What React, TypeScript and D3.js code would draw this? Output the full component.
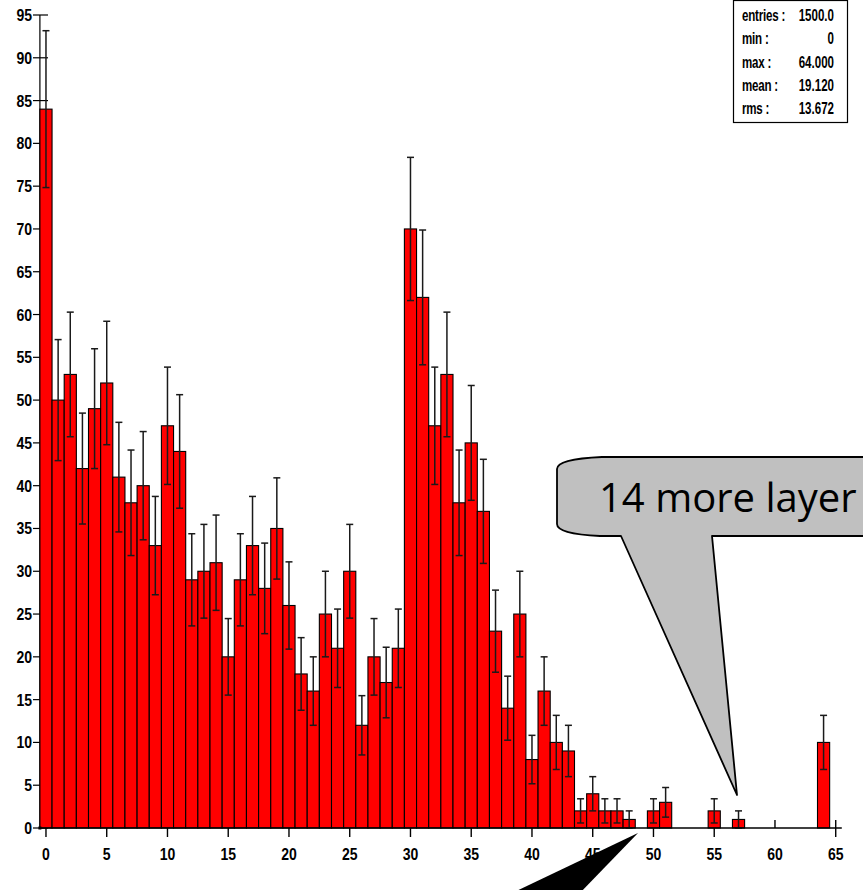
import React, { useEffect, useRef } from "react";
import * as d3 from "d3";

// histogram contents, one entry per unit bin starting at 0
const counts = [
  84, 50, 53, 42, 49, 52, 41, 38, 40, 33,
  47, 44, 29, 30, 31, 20, 29, 33, 28, 35,
  26, 18, 16, 25, 21, 30, 12, 20, 17, 21,
  70, 62, 47, 53, 38, 45, 37, 23, 14, 25,
  8, 16, 10, 9, 2, 4, 2, 2, 1, 0,
  2, 3, 0, 0, 0, 2, 0, 1, 0, 0,
  0, 0, 0, 0, 10,
];

const xTicks = [0, 5, 10, 15, 20, 25, 30, 35, 40, 45, 50, 55, 60, 65];
const yTicks = [0, 5, 10, 15, 20, 25, 30, 35, 40, 45, 50, 55, 60, 65, 70, 75, 80, 85, 90, 95];

const statLabels = ["entries :", "min :", "max :", "mean :", "rms :"];
const statValues = ["1500.0", "0", "64.000", "19.120", "13.672"];

const calloutText = "14 more layer";

const App = () => {
  const svgRef = useRef<SVGSVGElement>(null);

  useEffect(() => {
    const width = 863;
    const height = 890;
    const svg = d3.select(svgRef.current);
    svg.selectAll("*").remove();
    svg.attr("width", width).attr("height", height);

    const x = d3.scaleLinear().domain([-0.5, 65.5]).range([39.9, 841.8]);
    const y = d3.scaleLinear().domain([0, 95]).range([828, 15]);
    const axisFont = "'Liberation Sans', Arial, sans-serif";

    // y ticks (drawn under the bars)
    svg.append("g")
      .selectAll("line")
      .data(yTicks)
      .join("line")
      .attr("x1", 33)
      .attr("x2", 48)
      .attr("y1", (d) => y(d))
      .attr("y2", (d) => y(d))
      .attr("stroke", "#000")
      .attr("stroke-width", 1.2);

    svg.append("line")
      .attr("x1", x(-0.5)).attr("x2", x(-0.5))
      .attr("y1", y(0)).attr("y2", y(95))
      .attr("stroke", "#000").attr("stroke-width", 1.2);

    const data = counts.map((c, i) => ({ bin: i, c })).filter((d) => d.c > 0);

    svg.append("g")
      .selectAll("rect")
      .data(data)
      .join("rect")
      .attr("x", (d) => x(d.bin - 0.5))
      .attr("width", (d) => x(d.bin + 0.5) - x(d.bin - 0.5))
      .attr("y", (d) => y(d.c))
      .attr("height", (d) => y(0) - y(d.c))
      .attr("fill", "#ff0000")
      .attr("stroke", "#000")
      .attr("stroke-width", 1.1);

    // poisson error bars
    const err = svg.append("g").attr("stroke", "#1a1a1a").attr("stroke-width", 1.5);
    data.forEach((d) => {
      const e = Math.sqrt(d.c);
      const cx = x(d.bin);
      const lo = y(Math.max(0, d.c - e));
      const hi = y(d.c + e);
      err.append("line").attr("x1", cx).attr("x2", cx).attr("y1", lo).attr("y2", hi);
      err.append("line").attr("x1", cx - 3.5).attr("x2", cx + 3.5).attr("y1", hi).attr("y2", hi);
      err.append("line").attr("x1", cx - 3.5).attr("x2", cx + 3.5).attr("y1", lo).attr("y2", lo);
    });

    // x axis
    svg.append("line")
      .attr("x1", x(-0.5)).attr("x2", x(65.5))
      .attr("y1", y(0)).attr("y2", y(0))
      .attr("stroke", "#000").attr("stroke-width", 1.4);
    svg.append("rect")
      .attr("x", x(-0.5) - 1.5).attr("y", y(0) - 1.5)
      .attr("width", 3).attr("height", 3).attr("fill", "#000");

    svg.append("g")
      .selectAll("line")
      .data(xTicks)
      .join("line")
      .attr("x1", (d) => x(d))
      .attr("x2", (d) => x(d))
      .attr("y1", (d) => (d >= 60 ? y(0) - 8 : y(0)))
      .attr("y2", (d) => (d === 60 ? y(0) : y(0) + 9))
      .attr("stroke", "#000")
      .attr("stroke-width", 1.4);

    svg.append("g")
      .selectAll("text")
      .data(xTicks)
      .join("text")
      .attr("transform", (d) => `translate(${x(d)},860) scale(0.85,1)`)
      .attr("text-anchor", "middle")
      .attr("font-family", axisFont)
      .attr("font-weight", "bold")
      .attr("font-size", 16.5)
      .text((d) => d);

    svg.append("g")
      .selectAll("text")
      .data(yTicks)
      .join("text")
      .attr("transform", (d) => `translate(32,${y(d) + 6}) scale(0.85,1)`)
      .attr("text-anchor", "end")
      .attr("font-family", axisFont)
      .attr("font-weight", "bold")
      .attr("font-size", 16.5)
      .text((d) => d);

    // statistics box
    const box = svg.append("g");
    box.append("rect")
      .attr("x", 733.5).attr("y", 0.5)
      .attr("width", 114).attr("height", 122)
      .attr("fill", "#fff").attr("stroke", "#000").attr("stroke-width", 1.2);
    statLabels.forEach((lab, i) => {
      const by = 21 + i * 23.3;
      box.append("text")
        .attr("transform", `translate(742,${by}) scale(0.68,1)`)
        .attr("font-family", axisFont).attr("font-weight", "bold").attr("font-size", 17)
        .attr("letter-spacing", -0.3)
        .text(lab);
      box.append("text")
        .attr("transform", `translate(834,${by}) scale(0.68,1)`)
        .attr("text-anchor", "end")
        .attr("font-family", axisFont).attr("font-weight", "bold").attr("font-size", 17)
        .text(statValues[i]);
    });

    // speech bubble callout
    const bub = d3.path();
    bub.moveTo(880, 457);
    bub.lineTo(602, 457);
    bub.quadraticCurveTo(557, 459, 557, 469);
    bub.lineTo(557, 524);
    bub.quadraticCurveTo(557, 534, 600, 536);
    bub.lineTo(621, 536);
    bub.lineTo(737, 795);
    bub.lineTo(712, 536);
    bub.lineTo(880, 536);
    svg.append("path")
      .attr("d", bub.toString())
      .attr("fill", "#c0c0c0")
      .attr("stroke", "#000")
      .attr("stroke-width", 1.8)
      .attr("stroke-linejoin", "round");
    svg.append("text")
      .attr("x", 599).attr("y", 512)
      .attr("font-family", "'Open Sans', sans-serif")
      .attr("font-size", 40)
      .attr("fill", "#000")
      .text(calloutText);

    // black pointer coming in from below
    svg.append("path")
      .attr("d", "M638,833 L578,895 L508,895 Z")
      .attr("fill", "#000");
  }, []);

  return (
    <svg
      ref={svgRef}
      style={{ position: "absolute", left: 0, top: 0, background: "#fff", overflow: "hidden" }}
    />
  );
};

export default App;
